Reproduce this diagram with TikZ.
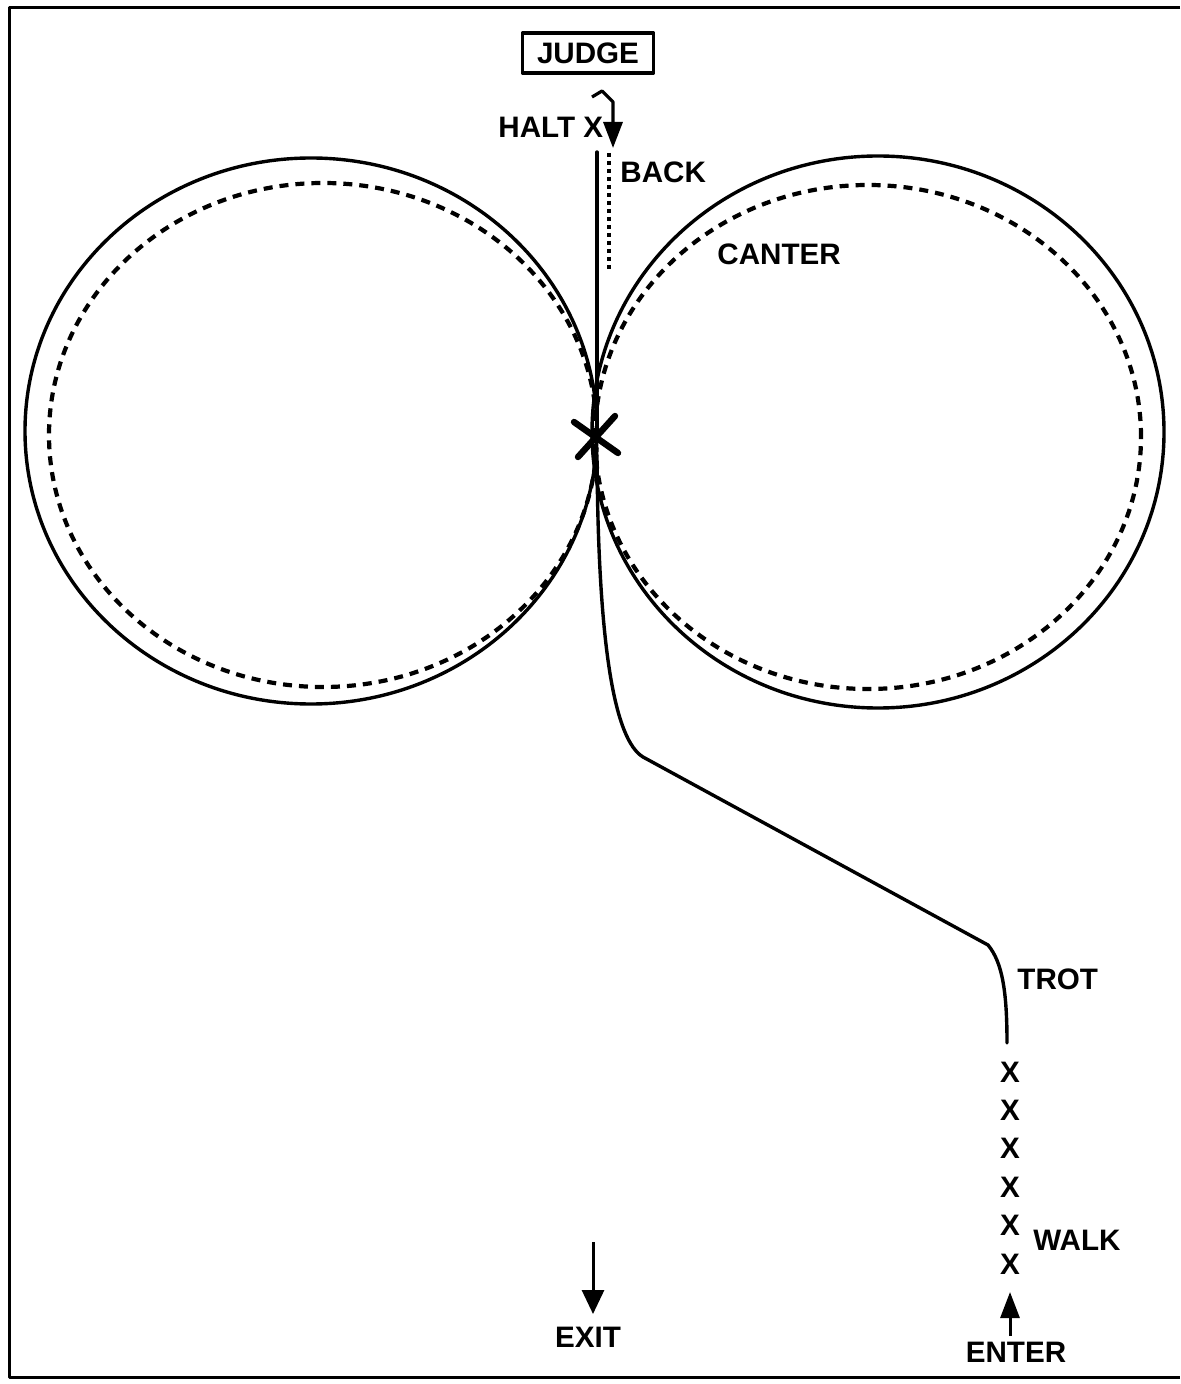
\documentclass[tikz,border=0pt]{standalone}
\usepackage{fontspec}
\setmainfont{Liberation Sans}
\usetikzlibrary{arrows.meta}
\begin{document}
\begin{tikzpicture}[x=0.5pt,y=-0.5pt, line join=round,
  lbl/.style={font=\fontsize{14.8}{17}\selectfont\bfseries, inner sep=0pt},
  solidpath/.style={line width=1.7pt, line cap=round},
  gait/.style={line width=2.1pt, dash pattern=on 4.5pt off 3.5pt},
  tri/.style={-{Triangle[length=13pt,width=9.5pt]}}]
\useasboundingbox (0,0) rectangle (1180,1384);
\fill[white] (0,0) rectangle (1180,1384);
% frame
\draw[line width=1.5pt] (1180,8) -- (9,8) -- (9,1377) -- (1180,1377);
% circles
\draw[solidpath] (311,431) ellipse [x radius=143pt, y radius=136.5pt];
\draw[solidpath] (878,432) ellipse [x radius=143pt, y radius=138pt];
\draw[gait] (323,435) ellipse [x radius=137pt, y radius=126pt];
\draw[gait] (868,437) ellipse [x radius=136.5pt, y radius=126pt];
% named points
\coordinate (lineTop) at (597,152);
\coordinate (centre) at (597,437);
\coordinate (backTop) at (609,153);
\coordinate (backEnd) at (609,270);
\coordinate (trotStart) at (597,455);
\coordinate (bendA) at (643,757);
\coordinate (bendB) at (988,945);
\coordinate (trotEnd) at (1007,1043);
\coordinate (haltA) at (592,97);
\coordinate (haltB) at (602,91);
\coordinate (haltC) at (613,102);
\coordinate (haltTip) at (613,148);
\coordinate (enterFoot) at (1010,1336);
\coordinate (enterTip) at (1010,1292);
\coordinate (exitTop) at (593,1242);
\coordinate (exitTip) at (593,1314);
% centre line and back
\draw[solidpath] (lineTop) -- (centre);
\draw[line width=2.2pt, dash pattern=on 2pt off 2pt] (backTop) -- (backEnd);
% halt arrow
\draw[line width=1.6pt, tri] (haltA) -- (haltB) -- (haltC) -- (haltTip);
% centre X
\draw[line width=3.2pt, line cap=round] (574,422) -- (618,453);
\draw[line width=3.2pt, line cap=round] (615,416) -- (578,457);
% trot path
\draw[solidpath] (trotStart) .. controls (598,650) and (615,740) .. (bendA)
  -- (bendB) .. controls (1002,962) and (1007,990) .. (trotEnd);
% arrows
\draw[line width=1.5pt, tri] (enterFoot) -- (enterTip);
\draw[line width=1.5pt, -{Triangle[length=12pt,width=11pt]}] (exitTop) -- (exitTip);
% labels
\node[lbl, draw, line width=1.6pt, minimum width=65.5pt, minimum height=20pt] (judge) at (588,53) {JUDGE};
\node[lbl, anchor=west] (halt) at (498,127) {HALT X};
\node[lbl, anchor=west] (back) at (620,172) {BACK};
\node[lbl, anchor=west] (canter) at (717,254) {CANTER};
\node[lbl, anchor=west] (trot) at (1017,979) {TROT};
\node[lbl, anchor=west] (walk) at (1033,1240) {WALK};
\node[lbl] (enter) at (1016,1352) {ENTER};
\node[lbl] (exit) at (588,1337) {EXIT};
\foreach \i in {0,...,5} {
  \node[lbl] (w\i) at (1010,{1072+38.4*\i}) {X};
}
\end{tikzpicture}
\end{document}
